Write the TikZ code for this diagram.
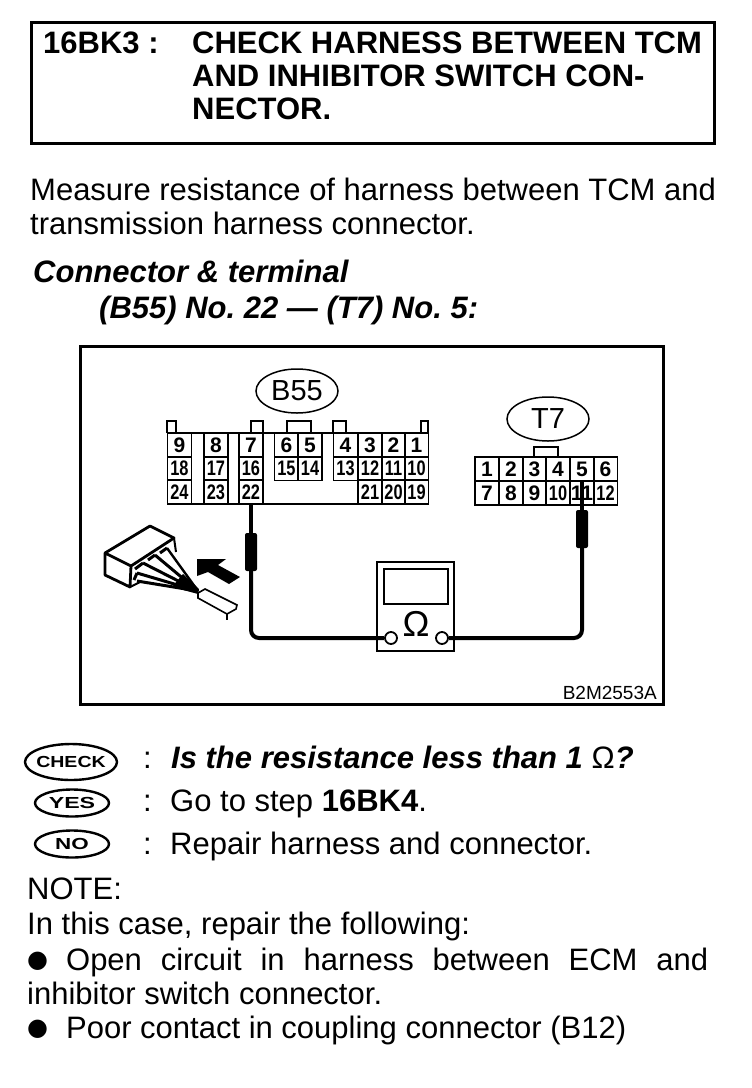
\documentclass[tikz,border=0pt]{standalone}
\usepackage{fontspec}
\setmainfont{Liberation Sans}
\newfontfamily\symfont{DejaVu Sans}
\usetikzlibrary{shapes.geometric}
\newcommand{\fs}[1]{\fontsize{#1}{#1}\selectfont}
\newcommand{\pn}[1]{\scalebox{.78}[1]{#1}}
\newcommand{\blt}{{\symfont\fs{24}\raisebox{3pt}{●}}}
\tikzset{
  txt/.style={anchor=base west,inner sep=0pt,font=\fs{31}},
  ttl/.style={anchor=base west,inner sep=0pt,font=\fs{31}\bfseries},
  head/.style={anchor=base west,inner sep=0pt,font=\fs{31}\bfseries\itshape},
  cell/.style={draw,line width=1.6pt,minimum width=24pt,minimum height=24pt,inner sep=0pt,font=\fs{21}\bfseries},
  badge/.style={draw,ellipse,line width=2.4pt,inner sep=-3pt,font=\fs{16}\bfseries},
  tag/.style={draw,ellipse,line width=1.5pt,minimum width=82pt,minimum height=44pt,inner sep=0pt,font=\fs{29}},
  wire/.style={line width=4pt,rounded corners=8pt},
  probe/.style={fill=black,rounded corners=2pt,minimum width=12pt,minimum height=38pt,inner sep=0pt}
}
\begin{document}
\begin{tikzpicture}[x=1pt,y=-1pt]
\useasboundingbox (0,0) rectangle (752,1088);

% title box
\draw[line width=3pt] (31,22) rectangle (714,143);
\node[ttl] (titleno) at (43,53) {16BK3 :};
\node[ttl] (titlea) at (192,53) {CHECK HARNESS BETWEEN TCM};
\node[ttl] (titleb) at (192,86) {AND INHIBITOR SWITCH CON-};
\node[ttl] (titlec) at (192,119) {NECTOR.};

% intro
\node[txt] (introa) at (30,200) {Measure resistance of harness between TCM and};
\node[txt] (introb) at (30,234) {transmission harness connector.};
\node[head] (conna) at (33,282) {Connector \& terminal};
\node[head] (connb) at (99,318) {(B55) No.\ 22 --- (T7) No.\ 5:};

% figure frame
\draw[line width=3pt] (80,346) rectangle (663,704);
\node[anchor=base east,inner sep=0pt,font=\fs{19}] (figno) at (657,699) {B2M2553A};

% B55
\node[tag] (b55) at (297,391) {B55};
\foreach \x/\w in {171.5/9,257/12,299/24,339.5/13,424.5/7}
  \draw[line width=1.8pt] (\x-\w/2,433) -- (\x-\w/2,421) -- (\x+\w/2,421) -- (\x+\w/2,433);
\foreach \x/\y/\t in {179.5/445/9,216/445/8,251/445/7,286.5/445/6,310/445/5,345.5/445/4,370/445/3,393.5/445/2,416.5/445/1,
  179.5/468.5/\pn{18},216/468.5/\pn{17},251/468.5/\pn{16},286.5/468.5/\pn{15},310/468.5/\pn{14},345.5/468.5/\pn{13},370/468.5/\pn{12},393.5/468.5/\pn{11},416.5/468.5/\pn{10},
  179.5/492/\pn{24},216/492/\pn{23},251/492/\pn{22},370/492/\pn{21},393.5/492/\pn{20},416.5/492/\pn{19}}
  \node[cell] at (\x,\y) {\t};
\coordinate (b22) at (251,504);
\draw[line width=2.4pt] (167,433) -- (428,433);
\draw[line width=2.4pt] (167,504) -- (428,504);

% T7
\node[tag] (t7) at (548,419) {T7};
\draw[line width=1.8pt] (534,457) -- (534,447) -- (558,447) -- (558,457);
\foreach \x/\a/\b in {487/1/7,511/2/8,534.5/3/9,558/4/\pn{10},582/5/11,605.5/6/\pn{12}}{
  \node[cell] (ta\a) at (\x,469) {\a};
  \node[cell] (tb\a) at (\x,493.5) {\b};
}
\draw[line width=2.4pt] (475,457) -- (617,457);
\draw[line width=2.4pt] (475,505) -- (617,505);

% meter
\draw[line width=2pt] (377,562) rectangle (454,651);
\draw[line width=2.4pt] (384,569) rectangle (448,604);
\node[inner sep=0pt,font=\fs{36}] (ohm) at (416,624) {Ω};
\node[draw,circle,fill=white,line width=1.8pt,minimum size=12pt,inner sep=0pt] (terma) at (391,638) {};
\node[draw,circle,fill=white,line width=1.8pt,minimum size=12pt,inner sep=0pt] (termb) at (442,638) {};

% probes
\node[probe] (probea) at (251,552) {};
\node[probe] (probeb) at (582,529) {};
\draw[wire] (b22) -- (probea.north);
\draw[wire] (probea.south) |- (terma.west);
\draw[wire] (termb.east) -| (probeb.south);
\draw[wire] (probeb.north) -- (ta5.south);

% connector sketch
\draw[line width=2.8pt,line join=round] (131,566) -- (105,553) -- (150,526) -- (174,538) -- (131,566) -- (130,587) -- (105,575) -- (105,553);
\draw[line width=2pt] (174,538) -- (176,552);
\draw[line width=2pt] (130,587) -- (140,582);
\draw[line width=2.4pt] (167,548) -- (198,591);
\draw[line width=3pt] (155,555) -- (198,591);
\draw[line width=3pt] (143,563) -- (198,591);
\draw[line width=3pt] (137,573) -- (198,591);
\draw[line width=3pt] (137,581) -- (198,591);
\draw[line width=3pt] (167,548) -- (160,553) (155,555) -- (148,560) (143,563) -- (135,569) (137,573) -- (134,580);
\fill (183,574) -- (199,589) -- (198,594) -- (172,587) -- cycle;
\draw[line width=1.6pt] (237,605) -- (205,589) -- (198,593) -- (198,598) -- (227,614) -- (236,609) -- cycle;
\draw[line width=1.6pt] (227,614) -- (227,620);
\fill (197,559) -- (226,559) -- (218,565) -- (240,577) -- (229,584) -- (208,572) -- (197,576) -- cycle;

% check result
\node[badge,minimum width=92pt,minimum height=36pt] (check) at (71,762) {\scalebox{1.22}[1]{CHECK}};
\node[badge,minimum width=74pt,minimum height=27pt] (yes) at (72,803) {\scalebox{1.45}[1]{YES}};
\node[badge,minimum width=74pt,minimum height=27pt] (no) at (72,844) {\scalebox{1.4}[1]{NO}};
\node[txt] (cola) at (143,768) {:};
\node[txt] (colb) at (143,811) {:};
\node[txt] (colc) at (143,854) {:};
\node[head] (checktxt) at (171,768) {Is the resistance less than 1 {\normalfont Ω}?};
\node[txt] (yestxt) at (170,811) {Go to step \textbf{16BK4}.};
\node[txt] (notxt) at (170,854) {Repair harness and connector.};

% note
\node[txt] (note) at (27,899) {NOTE:};
\node[txt] (notea) at (27,934) {In this case, repair the following:};
\node[txt] (noteb) at (27,970) {\makebox[681pt][s]{\blt\hspace{18pt}Open circuit in harness between ECM and}};
\node[txt] (notec) at (27,1004) {inhibitor switch connector.};
\node[txt] (noted) at (27,1038) {\blt\hspace{18pt}Poor contact in coupling connector (B12)};
\end{tikzpicture}
\end{document}
